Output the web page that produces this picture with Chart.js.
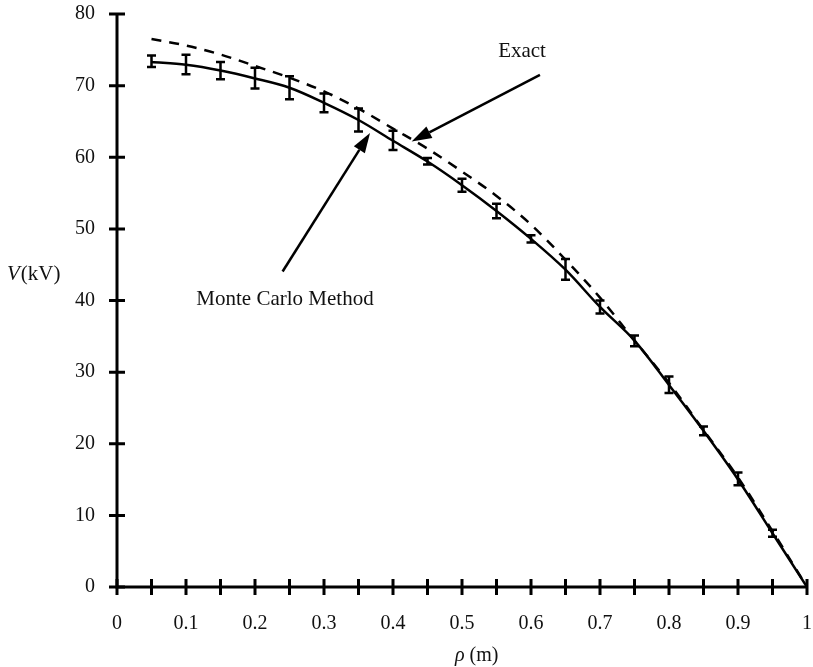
<!DOCTYPE html>
<html>
<head>
<meta charset="utf-8">
<script src="https://cdn.jsdelivr.net/npm/chart.js@4.4.1/dist/chart.umd.min.js"></script>
<style>
  html, body { margin: 0; padding: 0; background: #fff; }
  #wrap { width: 813px; height: 667px; }
</style>
</head>
<body>
<div id="wrap"><canvas id="chart" width="813" height="667"></canvas></div>
<script>
// exact solution (dashed)
const exactRho = [0.05, 0.1, 0.15, 0.2, 0.25, 0.3, 0.35, 0.4, 0.45, 0.5,
  0.55, 0.6, 0.65, 0.7, 0.75, 0.8, 0.85, 0.9, 0.95, 1];
const exactV = [76.5, 75.6, 74.35, 72.75, 71.1, 69.2, 66.8, 64.0, 61.2, 58.0,
  54.6, 50.6, 45.7, 40.4, 34.4, 28.5, 21.9, 15.3, 7.8, 0];

// Monte Carlo estimates with error bars
const mcRho = [0.05, 0.1, 0.15, 0.2, 0.25, 0.3, 0.35, 0.4, 0.45, 0.5,
  0.55, 0.6, 0.65, 0.7, 0.75, 0.8, 0.85, 0.9, 0.95];
const mcV = [73.3, 72.9, 72.1, 71.0, 69.7, 67.6, 65.2, 62.3, 59.4, 56.1,
  52.5, 48.6, 44.3, 39.1, 34.4, 28.2, 21.8, 15.0, 7.5];
const mcLow = [72.6, 71.6, 70.9, 69.6, 68.1, 66.3, 63.6, 61.0, 59.0, 55.2,
  51.5, 48.1, 42.9, 38.2, 33.6, 27.1, 21.2, 14.2, 7.0];
const mcHigh = [74.2, 74.3, 73.3, 72.5, 71.3, 68.9, 66.8, 63.7, 59.9, 57.0,
  53.5, 49.1, 45.8, 40.0, 35.1, 29.4, 22.4, 16.0, 8.0];

// boundary: V = 0 at rho = 1
const wallRho = 1;
const wallV = 0;

const xTickLabels = ["0", "0.1", "0.2", "0.3", "0.4", "0.5", "0.6", "0.7", "0.8", "0.9", "1"];
const yTickLabels = ["0", "10", "20", "30", "40", "50", "60", "70", "80"];

const FONT = "'Liberation Serif', 'Times New Roman', serif";
const INK = "#111";

function toPoints(xs, ys) {
  return xs.map((x, i) => ({ x, y: ys[i] }));
}

// keep tick padding from pushing the plot area in
function noEdgePadding(scale) {
  scale.paddingTop = 0;
  scale.paddingBottom = 0;
  scale.paddingLeft = 0;
  scale.paddingRight = 0;
}

function drawArrow(ctx, x0, y0, x1, y1) {
  const ang = Math.atan2(y1 - y0, x1 - x0);
  const len = 20;
  const half = 6.5;
  const bx = x1 - len * Math.cos(ang);
  const by = y1 - len * Math.sin(ang);
  ctx.beginPath();
  ctx.moveTo(x0, y0);
  ctx.lineTo(bx, by);
  ctx.stroke();
  ctx.beginPath();
  ctx.moveTo(x1, y1);
  ctx.lineTo(bx + half * Math.sin(ang), by - half * Math.cos(ang));
  ctx.lineTo(bx - half * Math.sin(ang), by + half * Math.cos(ang));
  ctx.closePath();
  ctx.fill();
}

const decorPlugin = {
  id: "decor",
  afterDatasetsDraw(chart) {
    const { ctx, chartArea } = chart;
    const xs = chart.scales.x;
    const ys = chart.scales.y;
    ctx.save();
    ctx.strokeStyle = "#000";
    ctx.fillStyle = "#000";
    ctx.lineCap = "butt";

    // error bars
    ctx.lineWidth = 2.5;
    mcRho.forEach((r, i) => {
      const px = xs.getPixelForValue(r);
      const top = ys.getPixelForValue(mcHigh[i]);
      const bot = ys.getPixelForValue(mcLow[i]);
      ctx.beginPath();
      ctx.moveTo(px, top);
      ctx.lineTo(px, bot);
      ctx.moveTo(px - 4.5, top);
      ctx.lineTo(px + 4.5, top);
      ctx.moveTo(px - 4.5, bot);
      ctx.lineTo(px + 4.5, bot);
      ctx.stroke();
    });

    // axes with crossing ticks
    ctx.lineWidth = 3;
    ctx.beginPath();
    ctx.moveTo(chartArea.left, chartArea.top);
    ctx.lineTo(chartArea.left, chartArea.bottom);
    ctx.lineTo(chartArea.right, chartArea.bottom);
    ctx.stroke();
    ctx.beginPath();
    xs.ticks.forEach((t, i) => {
      const px = xs.getPixelForTick(i);
      ctx.moveTo(px, chartArea.bottom - 8);
      ctx.lineTo(px, chartArea.bottom + 8);
    });
    ys.ticks.forEach((t, i) => {
      const py = ys.getPixelForTick(i);
      ctx.moveTo(chartArea.left - 8, py);
      ctx.lineTo(chartArea.left + 8, py);
    });
    ctx.stroke();

    // arrows
    ctx.lineWidth = 2.5;
    drawArrow(ctx, xs.getPixelForValue(0.613), ys.getPixelForValue(71.5),
      xs.getPixelForValue(0.427), ys.getPixelForValue(62.2));
    drawArrow(ctx, xs.getPixelForValue(0.240), ys.getPixelForValue(44.05),
      xs.getPixelForValue(0.3667), ys.getPixelForValue(63.4));

    // labels
    ctx.fillStyle = INK;
    ctx.textBaseline = "middle";
    ctx.textAlign = "center";
    ctx.font = "21px " + FONT;
    ctx.fillText("Exact", xs.getPixelForValue(0.587), ys.getPixelForValue(74.75));
    ctx.fillText("Monte Carlo Method", xs.getPixelForValue(0.2435), ys.getPixelForValue(40.1));

    // y axis title: V(kV)
    ctx.textAlign = "left";
    let tx = chartArea.left - 110;
    const ty = ys.getPixelForValue(43.7);
    ctx.font = "italic 21px " + FONT;
    ctx.fillText("V", tx, ty);
    tx += ctx.measureText("V").width + 1;
    ctx.font = "21px " + FONT;
    ctx.fillText("(kV)", tx, ty);

    // x axis title: rho (m)
    let rx = xs.getPixelForValue(0.5) - 7;
    const ry = chartArea.bottom + 69;
    ctx.font = "italic 20px " + FONT;
    ctx.fillText("\u03C1", rx, ry);
    rx += ctx.measureText("\u03C1").width + 5;
    ctx.font = "20px " + FONT;
    ctx.fillText("(m)", rx, ry);
    ctx.restore();
  },
};

new Chart(document.getElementById("chart"), {
  type: "line",
  data: {
    datasets: [
      {
        label: "Exact",
        data: toPoints(exactRho, exactV),
        borderColor: "#000",
        borderWidth: 2.5,
        borderDash: [10, 8],
        pointRadius: 0,
        cubicInterpolationMode: "monotone",
        fill: false,
      },
      {
        label: "Monte Carlo Method",
        data: toPoints(mcRho.concat([wallRho]), mcV.concat([wallV])),
        borderColor: "#000",
        borderWidth: 2.5,
        pointRadius: 0,
        cubicInterpolationMode: "monotone",
        fill: false,
      },
    ],
  },
  options: {
    responsive: false,
    animation: false,
    events: [],
    layout: { autoPadding: false, padding: { top: 14, right: 6, left: 0, bottom: 0 } },
    plugins: {
      legend: { display: false },
      tooltip: { enabled: false },
    },
    scales: {
      x: {
        type: "linear",
        min: 0,
        max: 1,
        grid: { display: false, drawTicks: false },
        border: { display: false },
        afterFit(scale) {
          scale.height = 80;
          noEdgePadding(scale);
        },
        ticks: {
          stepSize: 0.05,
          padding: 25,
          maxRotation: 0,
          autoSkip: false,
          color: INK,
          font: { family: FONT, size: 20 },
          callback(value, index) {
            return index % 2 === 0 ? xTickLabels[index / 2] : "";
          },
        },
      },
      y: {
        type: "linear",
        min: 0,
        max: 80,
        grid: { display: false, drawTicks: false },
        border: { display: false },
        afterFit(scale) {
          scale.width = 117;
          noEdgePadding(scale);
        },
        ticks: {
          stepSize: 10,
          padding: 22,
          color: INK,
          font: { family: FONT, size: 20 },
          callback(value, index) {
            return yTickLabels[index];
          },
        },
      },
    },
  },
  plugins: [decorPlugin],
});
</script>
</body>
</html>
